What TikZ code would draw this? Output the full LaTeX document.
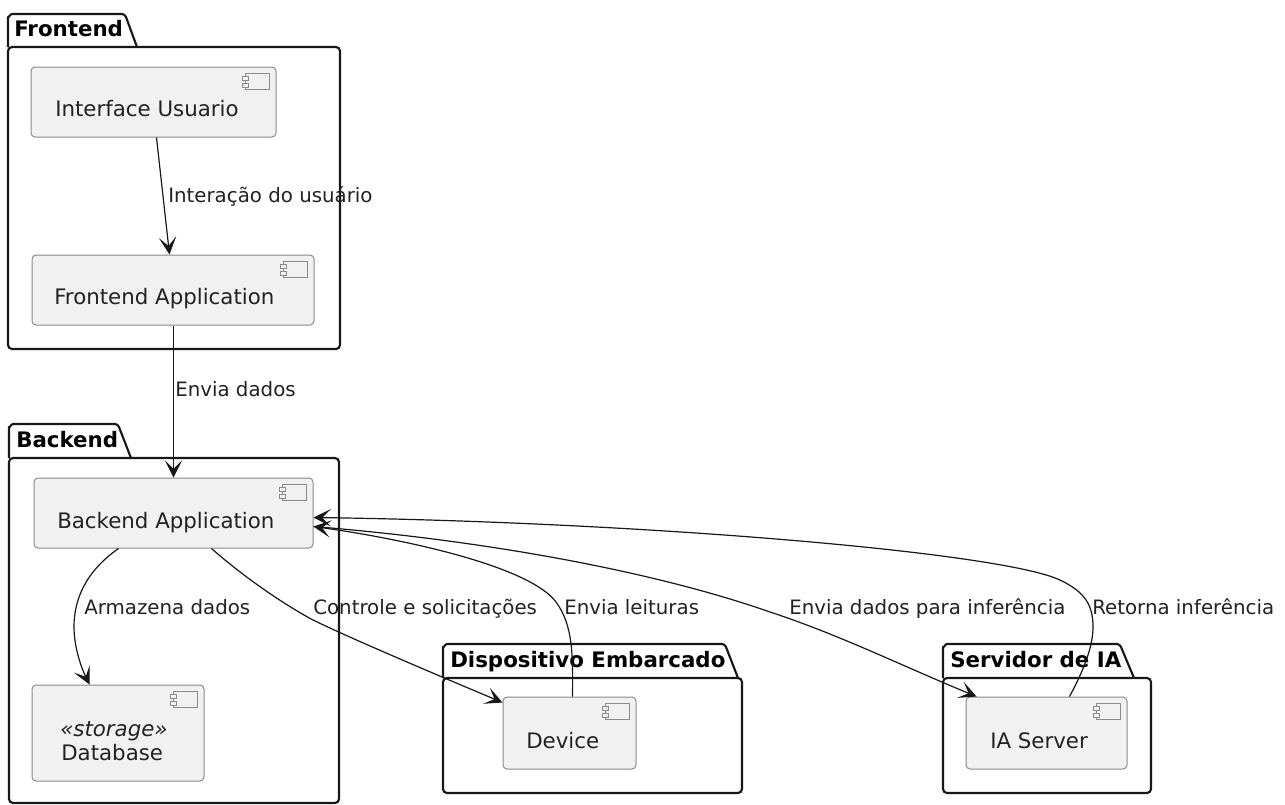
\documentclass[tikz,border=0pt]{standalone}
\usepackage{fontspec}
\setmainfont{DejaVu Sans}
\usetikzlibrary{arrows.meta,calc}
\definecolor{ink}{HTML}{181818}
\definecolor{boxfill}{HTML}{F1F1F1}
\definecolor{boxline}{HTML}{8A8A8A}
\definecolor{txt}{HTML}{222222}
\newcommand{\complabel}{\fontsize{16}{19}\selectfont}
\newcommand{\linklabel}{\fontsize{14.85}{18}\selectfont}
\newcommand{\pkgtitle}{\fontsize{16}{19}\selectfont\bfseries}
% name, left, top, right, bottom
\newcommand{\compbox}[5]{%
  \node[compnode,minimum width=#4*0.75pt-#2*0.75pt,minimum height=#5*0.75pt-#3*0.75pt]
    (#1) at ({(#2+#4)/2},{(#3+#5)/2}) {};
  \draw[iconline,fill=boxfill] ($(#1.north east)+(-31,7)$) rectangle ($(#1.north east)+(-7,23)$);
  \draw[iconline,fill=boxfill] ($(#1.north east)+(-34,10)$) rectangle ($(#1.north east)+(-28,14)$);
  \draw[iconline,fill=boxfill] ($(#1.north east)+(-34,17)$) rectangle ($(#1.north east)+(-28,21)$);
}
% left, top, tabtopright, tabbottomright, bodytop, right, bottom
\newcommand{\pkg}[7]{%
  \draw[pkgline] (#1,#5) -- (#1,{#2+3}) to[out=-90,in=180] ({#1+4},#2) -- ({#3-3},#2) to[out=0,in=120] ({#3+1},{#2+3}) -- (#4,#5);
  \draw[pkgline,rounded corners=3.0pt] (#1,#5) -- (#6,#5) -- (#6,#7) -- (#1,#7) -- cycle;
}
\tikzset{
  x=0.75pt,y=-0.75pt,
  compnode/.style={draw=boxline,fill=boxfill,line width=0.75pt,rounded corners=3pt,inner sep=0pt},
  iconline/.style={draw=boxline,line width=0.75pt},
  pkgline/.style={draw=ink,line width=1.6pt,line join=round},
  link/.style={draw=ink,line width=0.9pt,-{Stealth[length=13pt,width=13pt,inset=6.5pt]}},
  comptext/.style={anchor=base west,inner sep=0pt,text=txt,font=\complabel},
  linktext/.style={anchor=base west,inner sep=0pt,text=txt,font=\linklabel},
  pkgtext/.style={anchor=base west,inner sep=0pt,text=black,font=\pkgtitle},
}
\begin{document}
\begin{tikzpicture}
\useasboundingbox[fill=white] (0,0) rectangle (1285,804);
% packages
\pkg{8}{14}{125}{137}{47}{340}{349}
\pkg{9}{424}{118}{131}{458}{339}{803}
\pkg{443}{644}{725}{738}{678}{742}{793}
\pkg{943}{644}{1120}{1134}{678}{1151}{793}
\node[pkgtext] (tFront) at (14,36) {Frontend};
\node[pkgtext] (tBack) at (16,447) {Backend};
\node[pkgtext] (tDev) at (450,667) {Dispositivo Embarcado};
\node[pkgtext] (tIA) at (950,667) {Servidor de IA};
% components
\compbox{iface}{31}{67}{276}{137}
\compbox{fapp}{32}{255}{314}{325}
\compbox{bapp}{34}{478}{313}{548}
\compbox{db}{32}{685}{204}{781}
\compbox{dev}{503}{697}{636}{769}
\compbox{ias}{966}{697}{1127}{769}
\node[comptext] (ifaceT) at (55,116) {Interface Usuario};
\node[comptext] (fappT) at (54,304) {Frontend Application};
\node[comptext] (bappT) at (57,528) {Backend Application};
\node[comptext,font=\complabel\itshape] (dbS) at (60,736) {«storage»};
\node[comptext] (dbT) at (61,760) {Database};
\node[comptext] (devT) at (526,748) {Device};
\node[comptext] (iasT) at (990,748) {IA Server};
% connectors
\draw[link] ($(iface.south west)+(126,0)$) -- ($(fapp.north west)+(138,0)$);
\draw[link] ($(fapp.south west)+(142,0)$) -- ($(bapp.north west)+(140,0)$);
\draw[link] ($(bapp.south west)+(85,0)$) .. controls (85,572) and (74,600) .. (74,627) .. controls (74,645) and (80,665) .. ($(db.north west)+(58,0)$);
\draw[link] ($(bapp.south west)+(178,0)$) .. controls (245,578) and (285,605) .. (313,620) .. controls (350,638) and (430,672) .. ($(dev.north west)+(0,6)$);
\draw[link] ($(dev.north west)+(70,0)$) .. controls (573,655) and (573,625) .. (556,602) .. controls (530,567) and (410,540) .. ($(bapp.north east)+(0,49)$);
\draw[link] ($(bapp.north east)+(0,49)$) .. controls (480,540) and (650,570) .. (770,612) .. controls (840,635) and (900,665) .. ($(ias.north west)+(11,0)$);
\draw[link] ($(ias.north west)+(104,0)$) .. controls (1085,668) and (1093,645) .. (1093,627) .. controls (1093,605) and (1085,592) .. (1060,580) .. controls (1000,552) and (640,522) .. ($(bapp.north east)+(0,40)$);
% connector labels
\node[linktext] (l1) at (168,202) {Interação do usuário};
\node[linktext] (l2) at (175,396) {Envia dados};
\node[linktext] (l3) at (84,614) {Armazena dados};
\node[linktext] (l4) at (313,614) {Controle e solicitações};
\node[linktext] (l5) at (564,614) {Envia leituras};
\node[linktext] (l6) at (789,614) {Envia dados para inferência};
\node[linktext] (l7) at (1092,614) {Retorna inferência};
\end{tikzpicture}
\end{document}
